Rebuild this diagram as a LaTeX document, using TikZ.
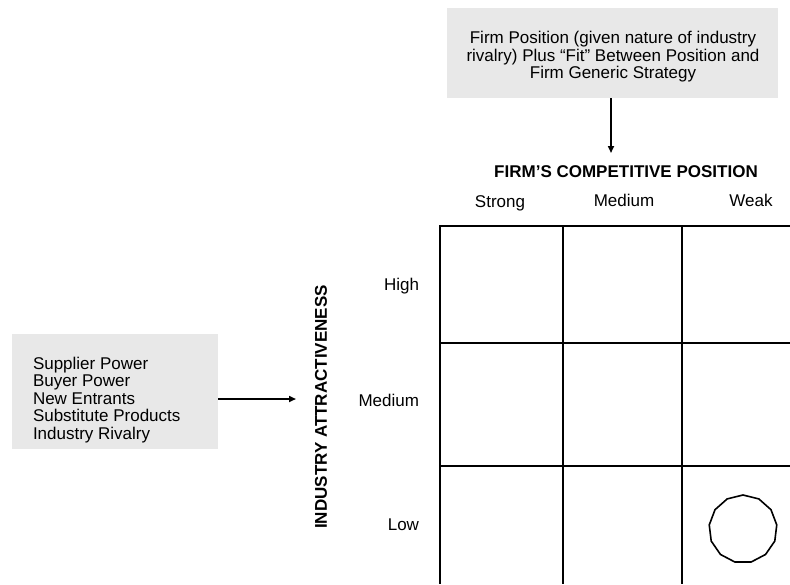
\documentclass[tikz,border=0pt]{standalone}
\usepackage{fontspec}
\setmainfont{Liberation Sans}
\usetikzlibrary{arrows.meta,shapes.geometric}
\definecolor{panel}{RGB}{232,232,232}
\begin{document}
\begin{tikzpicture}[x=1pt,y=-1pt,
  every node/.style={inner sep=0pt,outer sep=0pt},
  txt/.style={font=\fontsize{17}{17.5}\selectfont},
  head/.style={font=\fontsize{17}{17.5}\selectfont\bfseries},
  panelbox/.style={fill=panel,draw=none},
  gridline/.style={line width=2pt},
  link/.style={line width=1.6pt,-{Triangle[length=7pt,width=6pt]}}]
\useasboundingbox (0,0) rectangle (790,584);

% driver boxes
\node[panelbox,minimum width=331pt,minimum height=90pt] (topbox) at (612.5,53) {};
\node[txt,align=center] (toptext) at (613,57)
  {Firm Position (given nature of industry\\rivalry) Plus “Fit” Between Position and\\Firm Generic Strategy};
\node[panelbox,minimum width=206pt,minimum height=115pt] (leftbox) at (115,391.5) {};
\node[txt,align=left,anchor=west] (forces) at (33,400)
  {Supplier Power\\Buyer Power\\New Entrants\\Substitute Products\\Industry Rivalry};

% axis titles and labels
\node[head] (colhead) at (626,172) {FIRM’S COMPETITIVE POSITION};
\node[txt] (strong) at (500,203) {Strong};
\node[txt] (cmed) at (624,200) {Medium};
\node[txt] (weak) at (751,200) {Weak};
\node[head,rotate=90] (rowhead) at (321,407) {INDUSTRY ATTRACTIVENESS};
\node[txt,anchor=east] (high) at (419,286) {High};
\node[txt,anchor=east] (rmed) at (419,400) {Medium};
\node[txt,anchor=east] (low) at (419,525) {Low};

% arrows into the matrix
\coordinate (toptip) at (611,153);
\coordinate (lefttip) at (296,399);
\draw[link] (topbox.south -| toptip) -- (toptip);
\draw[link] (leftbox.east |- lefttip) -- (lefttip);

% matrix grid (runs off the right and bottom edges)
\draw[gridline] (440,226) -- (790,226);
\draw[gridline] (440,343) -- (790,343);
\draw[gridline] (440,466) -- (790,466);
\draw[gridline] (440,225) -- (440,584);
\draw[gridline] (563,225) -- (563,584);
\draw[gridline] (682,225) -- (682,584);

% marker in the low / weak cell
\node[regular polygon,regular polygon sides=13,draw,line width=1.6pt,
  minimum size=68pt] (mark) at (743,529) {};
\end{tikzpicture}
\end{document}
